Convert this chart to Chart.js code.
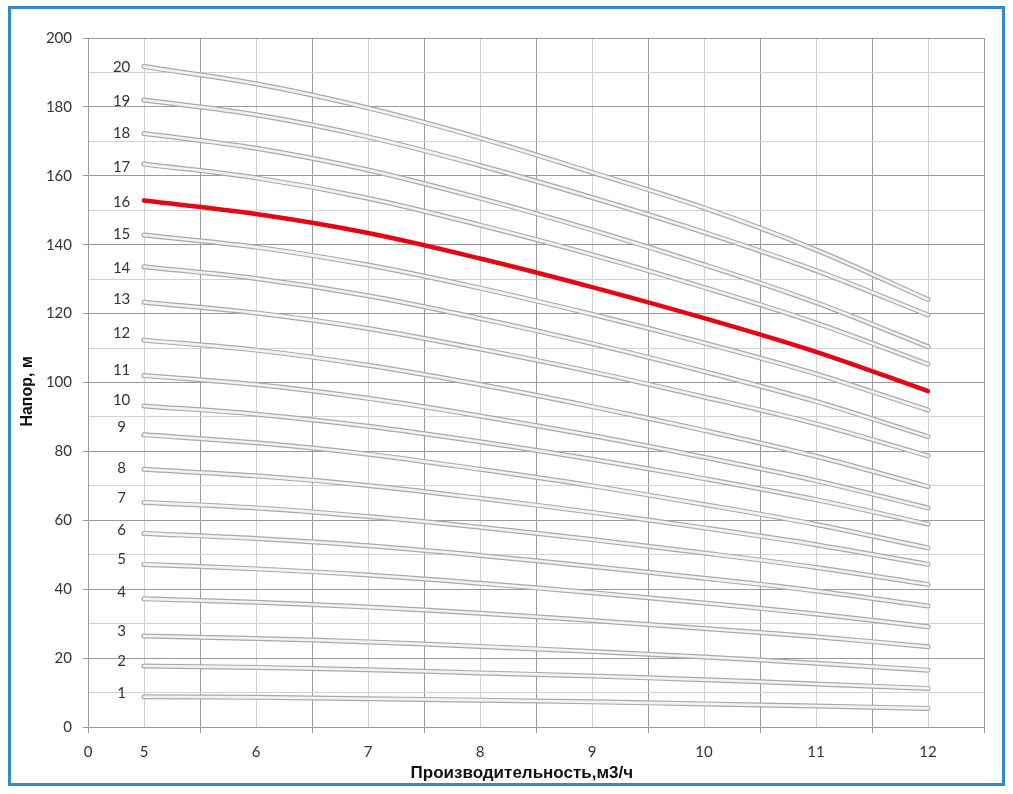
<!DOCTYPE html>
<html>
<head>
<meta charset="utf-8">
<script src="https://cdn.jsdelivr.net/npm/chart.js@4.4.1/dist/chart.umd.min.js"></script>
<style>
  body { margin: 0; background: #fff; }
  #wrap { position: relative; width: 1013px; height: 794px; }
  #frame { position: absolute; left: 8px; top: 6px; width: 991px; height: 774px; border: 3px solid #3189d3; }
  #chart { position: absolute; left: 0; top: 0; }
</style>
</head>
<body>
<div id="wrap">
  <div id="frame"></div>
  <canvas id="chart" width="1013" height="794"></canvas>
</div>
<script>
// производительность, м3/ч
let flow = [5, 6, 7, 8, 9, 10, 11, 12];

// напор по числу ступеней, м
let h1  = [8.8, 8.6, 8.2, 7.8, 7.3, 6.7, 6.1, 5.4];
let h2  = [17.7, 17.3, 16.6, 15.7, 14.8, 13.7, 12.5, 11.2];
let h3  = [26.4, 25.7, 24.7, 23.4, 21.9, 20.3, 18.5, 16.5];
let h4  = [37.2, 36.2, 34.8, 33.0, 30.9, 28.6, 26.2, 23.3];
let h5  = [47.2, 45.9, 44.1, 41.7, 39.0, 36.0, 32.8, 29.1];
let h6  = [56.2, 54.7, 52.6, 49.8, 46.6, 43.2, 39.5, 35.1];
let h7  = [65.2, 63.6, 61.1, 58.0, 54.4, 50.5, 46.3, 41.4];
let h8  = [74.8, 72.9, 70.1, 66.4, 62.3, 57.8, 52.9, 47.2];
let h9  = [84.8, 82.5, 79.2, 74.8, 70.0, 64.6, 58.8, 52.0];
let h10 = [93.2, 90.8, 87.3, 82.8, 77.7, 72.1, 66.0, 58.9];
let h11 = [102.0, 99.4, 95.4, 90.3, 84.6, 78.3, 71.5, 63.6];
let h12 = [112.3, 109.4, 105.0, 99.4, 93.0, 86.1, 78.6, 69.8];
let h13 = [123.3, 120.2, 115.7, 109.7, 103.1, 95.8, 88.0, 78.7];
let h14 = [133.6, 130.2, 125.2, 118.6, 111.3, 103.2, 94.5, 84.3];
let h15 = [142.8, 139.3, 134.1, 127.4, 119.8, 111.5, 102.5, 92.0];
let h16 = [152.8, 148.9, 143.4, 136.0, 127.7, 118.7, 108.9, 97.5];
let h17 = [163.4, 159.4, 153.5, 145.7, 137.1, 127.6, 117.3, 105.3];
let h18 = [172.3, 168.0, 161.7, 153.5, 144.3, 134.2, 123.2, 110.4];
let h19 = [182.0, 177.7, 171.3, 163.0, 153.7, 143.6, 132.5, 119.6];
let h20 = [191.7, 186.7, 179.7, 171.0, 161.0, 150.7, 138.5, 124.1];

let curves = [h1, h2, h3, h4, h5, h6, h7, h8, h9, h10, h11, h12, h13, h14, h15, h16, h17, h18, h19, h20];
let stageLabels = ['1','2','3','4','5','6','7','8','9','10','11','12','13','14','15','16','17','18','19','20'];
// высота подписей ступеней (в единицах оси напора)
let labelHeads = [10.2, 19.4, 28.1, 39.4, 48.9, 57.5, 66.8, 75.3, 87.2, 95.2, 103.9, 114.7, 124.6, 133.6, 143.3, 152.5, 162.9, 172.8, 182.0, 191.7];
let labelFlow = 4.8;
let redCurve = '16';

function pts(arr) {
  return arr.map(function(v, i) { return { x: flow[i], y: v }; });
}

let datasets = [];
curves.forEach(function(arr, i) {
  if (stageLabels[i] == redCurve) {
    datasets.push({ label: stageLabels[i], data: pts(arr), borderColor: '#e30613', borderWidth: 4.5, order: 0 });
  } else {
    datasets.push({ label: stageLabels[i], data: pts(arr), borderColor: '#a9a9a9', borderWidth: 5, order: 2 });
    datasets.push({ label: '', data: pts(arr), borderColor: '#f3f3f3', borderWidth: 2.6, order: 1 });
  }
});

let stageText = {
  id: 'stageText',
  afterDatasetsDraw(chart) {
    let ctx = chart.ctx;
    let xs = chart.scales.x, ys = chart.scales.y;
    ctx.save();
    ctx.font = '15px Lato, "Liberation Sans", sans-serif';
    ctx.fillStyle = '#333';
    ctx.textAlign = 'center';
    ctx.textBaseline = 'middle';
    labelHeads.forEach(function(v, i) {
      ctx.fillText(stageLabels[i], xs.getPixelForValue(labelFlow), ys.getPixelForValue(v) + 1);
    });
    ctx.restore();
  }
};

let isMajorX = function(v) { return Math.abs(((v - 4.5) % 1)) < 1e-6; };

let chartConfig = {
  type: 'line',
  data: { datasets: datasets },
  options: {
    responsive: false,
    animation: false,
    layout: { padding: { left: 0, right: 29, top: 38, bottom: 10 } },
    elements: {
      point: { radius: 0 },
      line: { tension: 0.35, borderCapStyle: 'round', borderJoinStyle: 'round', fill: false }
    },
    plugins: { legend: { display: false }, tooltip: { enabled: false } },
    scales: {
      x: {
        type: 'linear',
        min: 4.5,
        max: 12.5,
        afterFit: function(s) { s.height = 57; },
        ticks: {
          stepSize: 0.5,
          autoSkip: false,
          maxRotation: 0,
          padding: 10,
          color: '#333',
          font: { family: 'Lato, "Liberation Sans", sans-serif', size: 15 },
          callback: function(v) {
            if (Math.abs(v - 4.5) < 1e-6) return '0';
            if (Math.abs(v - Math.round(v)) < 1e-6) return String(Math.round(v));
            return '';
          }
        },
        grid: {
          color: function(c) { return isMajorX(c.tick.value) ? '#999' : '#d2d2d2'; },
          tickColor: function(c) { return isMajorX(c.tick.value) ? '#999' : 'rgba(0,0,0,0)'; },
          tickLength: 6,
          lineWidth: 1
        },
        border: { color: '#999' },
        title: {
          display: true,
          text: 'Производительность,м3/ч      ',
          color: '#111',
          font: { family: '"Liberation Sans", Arial, sans-serif', size: 17, weight: 'bold' },
          padding: { top: 1, bottom: 0 }
        }
      },
      y: {
        min: 0,
        max: 200,
        afterFit: function(s) { s.width = 88; },
        ticks: {
          stepSize: 10,
          autoSkip: false,
          padding: 11,
          color: '#333',
          font: { family: 'Lato, "Liberation Sans", sans-serif', size: 15 },
          callback: function(v) { return v % 20 === 0 ? String(v) : ''; }
        },
        grid: {
          color: function(c) { return c.tick.value % 20 === 0 ? '#999' : '#d2d2d2'; },
          tickColor: function(c) { return c.tick.value % 20 === 0 ? '#999' : 'rgba(0,0,0,0)'; },
          tickLength: 5,
          lineWidth: 1
        },
        border: { color: '#999' },
        title: {
          display: true,
          text: 'Напор, м    ',
          color: '#111',
          font: { family: '"Liberation Sans", Arial, sans-serif', size: 16, weight: 'bold' },
          padding: { top: 18, bottom: 0 }
        }
      }
    }
  },
  plugins: [stageText]
};

let pumpChart = new Chart(document.getElementById('chart'), chartConfig);
</script>
</body>
</html>
